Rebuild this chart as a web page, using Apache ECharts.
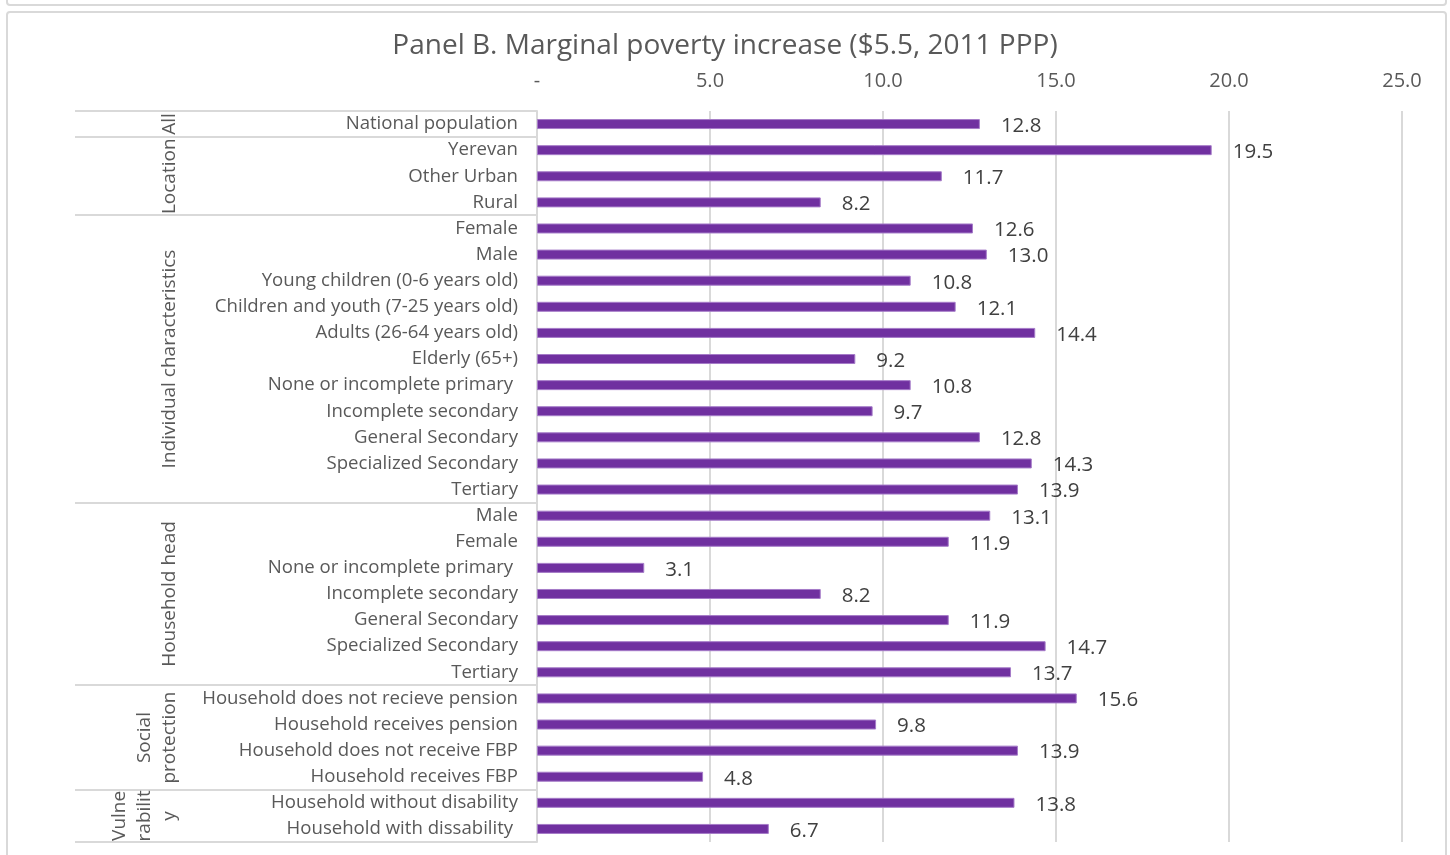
<!DOCTYPE html>
<html>
<head>
<meta charset="utf-8">
<script src="https://cdn.jsdelivr.net/npm/echarts@6/dist/echarts.min.js"></script>
<style>
  html, body { margin: 0; padding: 0; background: #ffffff; }
  #chart { width: 1450px; height: 855px; }
</style>
</head>
<body>
<div id="chart"></div>
<script>
// Category labels, top to bottom
const categories = [
  'National population',
  'Yerevan', 'Other Urban', 'Rural',
  'Female', 'Male', 'Young children (0-6 years old)', 'Children and youth (7-25 years old)',
  'Adults (26-64 years old)', 'Elderly (65+)', 'None or incomplete primary ', 'Incomplete secondary',
  'General Secondary', 'Specialized Secondary', 'Tertiary',
  'Male', 'Female', 'None or incomplete primary ', 'Incomplete secondary',
  'General Secondary', 'Specialized Secondary', 'Tertiary',
  'Household does not recieve pension', 'Household receives pension',
  'Household does not receive FBP', 'Household receives FBP',
  'Household without disability', 'Household with dissability '
];

// Marginal poverty increase, percentage points
const values = [
  12.8,
  19.5, 11.7, 8.2,
  12.6, 13.0, 10.8, 12.1, 14.4, 9.2, 10.8, 9.7, 12.8, 14.3, 13.9,
  13.1, 11.9, 3.1, 8.2, 11.9, 14.7, 13.7,
  15.6, 9.8, 13.9, 4.8,
  13.8, 6.7
];

// Row groups: label and number of rows in each
const groupNames = ['All', 'Location', 'Individual characteristics', 'Household head', 'Social\nprotection', 'Vulne\nrabilit\ny'];
const groupSizes = [1, 3, 11, 7, 4, 2];

// Value axis ticks
const axisMin = 0, axisMax = 25, axisStep = 5;

const GRAY_TEXT = '#595959';
const RULE = '#d9d9d9';
const FONT = '"Open Sans", Lato, sans-serif';

const chart = echarts.init(document.getElementById('chart'), null, { renderer: 'canvas' });

const option = {
  backgroundColor: '#ffffff',
  animation: false,
  title: {
    text: 'Panel B. Marginal poverty increase ($5.5, 2011 PPP)',
    left: 'center',
    top: 27,
    textStyle: { fontFamily: FONT, fontSize: 28, fontWeight: 'normal', color: GRAY_TEXT }
  },
  grid: { left: 537, right: 48, top: 111, bottom: 13, containLabel: false },
  xAxis: {
    type: 'value',
    position: 'top',
    min: axisMin, max: axisMax, interval: axisStep,
    axisLine: { show: false },
    axisTick: { show: false },
    axisLabel: {
      margin: 20,
      fontFamily: FONT, fontSize: 20, color: GRAY_TEXT,
      formatter: v => (v === 0 ? '-' : v.toFixed(1))
    },
    splitLine: { show: true, lineStyle: { color: RULE, width: 2 } }
  },
  yAxis: {
    type: 'category',
    inverse: true,
    data: categories,
    axisLine: { show: true, lineStyle: { color: RULE, width: 2 } },
    axisTick: { show: false },
    axisLabel: {
      margin: 19,
      padding: [3, 0, 0, 0],
      fontFamily: FONT, fontSize: 18.6, color: GRAY_TEXT,
      interval: 0
    }
  },
  series: [{
    type: 'bar',
    data: values,
    barWidth: 10,
    itemStyle: { color: '#7030a0', borderColor: '#a57bc8', borderWidth: 1 },
    label: {
      show: true,
      position: 'right',
      distance: 21,
      offset: [0, 2],
      fontFamily: FONT, fontSize: 20.5, color: '#404040',
      formatter: p => p.value.toFixed(1)
    }
  }]
};

chart.setOption(option);

// Table rules and rotated group labels, placed from the category axis scale
function drawGroups() {
  const c0 = chart.convertToPixel({ yAxisIndex: 0 }, 0);
  const c1 = chart.convertToPixel({ yAxisIndex: 0 }, 1);
  const step = c1 - c0;
  const axisX = chart.convertToPixel({ xAxisIndex: 0 }, axisMin);
  const boundary = i => c0 + (i - 0.5) * step;
  const tableLeft = 75;

  const elements = [];
  // outer frames of this panel and the one above
  elements.push({
    type: 'rect', silent: true,
    shape: { x: 7, y: 12, width: 1439, height: 900, r: 3 },
    style: { fill: null, stroke: RULE, lineWidth: 2 }
  });
  elements.push({
    type: 'rect', silent: true,
    shape: { x: 7, y: -100, width: 1439, height: 105, r: 3 },
    style: { fill: null, stroke: RULE, lineWidth: 2 }
  });

  let start = 0;
  const cuts = [0];
  groupSizes.forEach(n => { start += n; cuts.push(start); });
  cuts.forEach(i => {
    const y = Math.round(boundary(i));
    elements.push({
      type: 'line', silent: true,
      shape: { x1: tableLeft, y1: y, x2: axisX, y2: y },
      style: { stroke: RULE, lineWidth: 2 }
    });
  });

  groupNames.forEach((name, g) => {
    const yMid = (boundary(cuts[g]) + boundary(cuts[g + 1])) / 2;
    elements.push({
      type: 'text', silent: true,
      x: 182, y: yMid,
      rotation: Math.PI / 2,
      style: {
        text: name,
        fontFamily: FONT, fontSize: 19, fill: GRAY_TEXT,
        align: 'center', verticalAlign: 'bottom', lineHeight: 25
      }
    });
  });

  chart.setOption({ graphic: { elements } });
}
drawGroups();
</script>
</body>
</html>
